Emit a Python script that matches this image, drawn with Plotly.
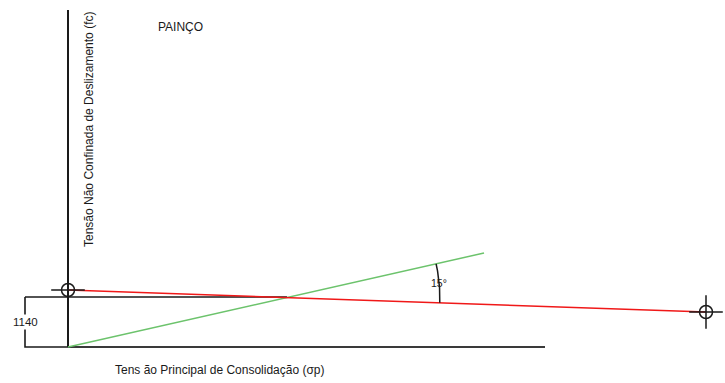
import numpy as np
import plotly.graph_objects as go

# Diagram values (x = principal consolidation stress axis, y = unconfined yield stress axis)
red_x = [0, 638]          # flow function / line through both markers
red_y = [57, 35]
green_x = [0, 416]        # line from origin
green_y = [0, 94]
ref_x = [-43, 219]        # horizontal reference at 1140
ref_y = [50, 50]
box_x = [-43, -43, 0]
box_y = [50, 0, 0]
xaxis_x = [0, 477]
xaxis_y = [0, 0]
yaxis_x = [0, 0]
yaxis_y = [0, 337]
marker_x = [0, 638]
marker_y = [57, 35]
angle_deg = 15
level_label = "1140"
title = "PAINÇO"
x_title = "Tens ão Principal de Consolidação (σp)"
y_title = "Tensão Não Confinada de Deslizamento (fc)"

fig = go.Figure()

def line(x, y, color, width):
    fig.add_trace(go.Scatter(x=x, y=y, mode="lines", line=dict(color=color, width=width),
                             hoverinfo="skip", showlegend=False))

line(yaxis_x, yaxis_y, "#1a1a1a", 2)
line(xaxis_x, xaxis_y, "#3a3a3a", 2)
line(box_x, box_y, "#1a1a1a", 1.6)
line(ref_x, ref_y, "#1a1a1a", 1.6)
line(green_x, green_y, "#6cc36c", 1.5)
line(red_x, red_y, "#f01818", 1.5)

# angle arc between the two lines, centered at their intersection
sr = (red_y[1] - red_y[0]) / (red_x[1] - red_x[0])
sg = (green_y[1] - green_y[0]) / (green_x[1] - green_x[0])
xi = (red_y[0] - green_y[0]) / (sg - sr)
yi = green_y[0] + sg * xi
a0, a1 = np.arctan(sr), np.arctan(sg)
t = np.linspace(a0, a1, 30)
R = 153
line(list(xi + R * np.cos(t)), list(yi + R * np.sin(t)), "#1a1a1a", 1.5)

# crosshair markers
fig.add_trace(go.Scatter(x=marker_x, y=marker_y, mode="markers",
                         marker=dict(symbol="cross-thin-open", size=24, color="#1a1a1a",
                                     line=dict(color="#1a1a1a", width=1.5)),
                         hoverinfo="skip", showlegend=False))
fig.add_trace(go.Scatter(x=marker_x, y=marker_y, mode="markers",
                         marker=dict(symbol="circle-open", size=13, color="#1a1a1a",
                                     line=dict(color="#1a1a1a", width=1.5)),
                         hoverinfo="skip", showlegend=False))

font = "Liberation Sans, Arial, sans-serif"
tm = (a0 + a1) / 2
annotations = [
    dict(x=xi + R * np.cos(tm), y=yi + R * np.sin(tm), text=f"{angle_deg}°",
         showarrow=False, font=dict(size=10.5, color="#1a1a1a", family=font)),
    dict(x=box_x[0], y=(box_y[0] + box_y[1]) / 2, text=level_label, showarrow=False,
         font=dict(size=11.5, color="#1a1a1a", family=font), bgcolor="white"),
    dict(x=112, y=320, text=title, showarrow=False,
         font=dict(size=12, color="#1a1a1a", family=font)),
    dict(x=152, y=-23, text=x_title, showarrow=False,
         font=dict(size=12, color="#1a1a1a", family=font)),
    dict(x=21, y=217, text=y_title, showarrow=False, textangle=-90,
         font=dict(size=12, color="#1a1a1a", family=font)),
]

fig.update_layout(
    width=725, height=383, margin=dict(l=0, r=0, t=0, b=0),
    paper_bgcolor="white", plot_bgcolor="white",
    xaxis=dict(range=[-68, 657], visible=False, fixedrange=True),
    yaxis=dict(range=[-36, 347], visible=False, fixedrange=True),
    annotations=annotations,
)

fig.write_html("out.html")
